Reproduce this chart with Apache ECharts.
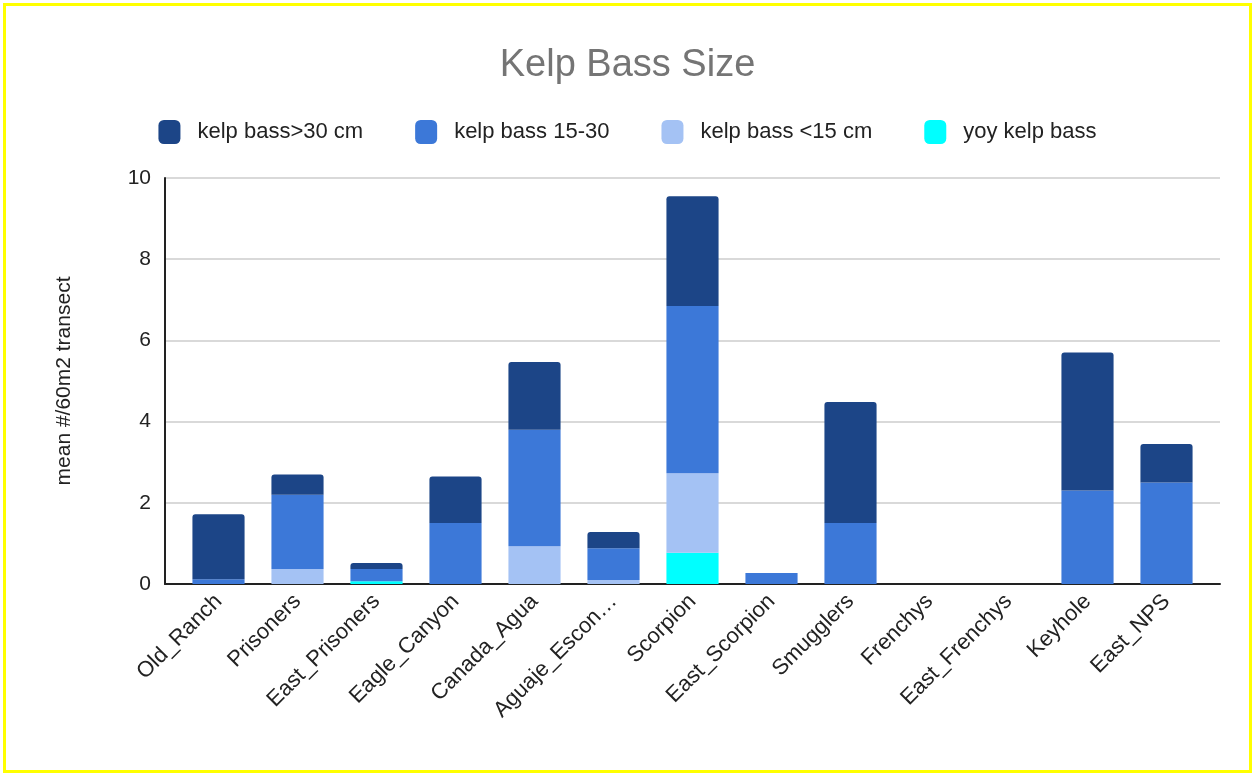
<!DOCTYPE html>
<html><head><meta charset="utf-8">
<script src="https://cdn.jsdelivr.net/npm/echarts@6/dist/echarts.min.js"></script>
<style>html,body{margin:0;padding:0;background:#fff}
#c{position:absolute;left:3px;top:3px;width:1249px;height:770px;border:3px solid #ffff00;box-sizing:border-box}</style>
</head><body><div id="c"></div>
<script>
var sites = ['Old_Ranch', 'Prisoners', 'East_Prisoners', 'Eagle_Canyon', 'Canada_Agua', 'Aguaje_Escondido', 'Scorpion', 'East_Scorpion', 'Smugglers', 'Frenchys', 'East_Frenchys', 'Keyhole', 'East_NPS'];
var yoy = [0, 0, 0.07, 0, 0, 0, 0.77, 0, 0, 0, 0, 0, 0];
var small = [0, 0.37, 0, 0, 0.93, 0.1, 1.96, 0, 0, 0, 0, 0, 0];
var mid = [0.12, 1.83, 0.3, 1.5, 2.87, 0.78, 4.12, 0.27, 1.5, 0, 0, 2.3, 2.5];
var big = [1.6, 0.5, 0.15, 1.15, 1.67, 0.4, 2.7, 0, 2.98, 0, 0, 3.4, 0.95];
var yTicks = [0, 2, 4, 6, 8, 10];

var font = '"Liberation Sans", Arial, sans-serif';
var myChart = echarts.init(document.getElementById('c'));
function s(name, data, color, top) {
    return {
        name: name, type: 'bar', stack: 'a', data: data, barCategoryGap: '34%',
        itemStyle: {color: color, borderRadius: top ? [3, 3, 0, 0] : 0}
    };
}
myChart.setOption({
    textStyle: {fontFamily: font},
    title: {text: 'Kelp Bass Size', left: 'center', top: 36,
        textStyle: {color: '#757575', fontSize: 38, fontWeight: 'normal', fontFamily: font}},
    legend: {top: 109, left: 'center', itemWidth: 22, itemHeight: 24, itemGap: 52,
        icon: 'roundRect', textStyle: {fontSize: 22, color: '#222', fontFamily: font, padding: [0, 0, 0, 12]},
        data: ['kelp bass>30 cm', 'kelp bass 15-30', 'kelp bass <15 cm', 'yoy kelp bass']},
    grid: [
        {left: 173, right: 43, top: 172, bottom: 186},
        {left: 159, right: 29, top: 172, bottom: 186}
    ],
    xAxis: [
        {type: 'category', data: sites, gridIndex: 0,
            axisLine: {show: false}, axisTick: {show: false},
            axisLabel: {rotate: 45, fontSize: 22, color: '#222', interval: 0, margin: 14,
                formatter: function (v) { return v.length > 15 ? v.slice(0, 12) + '…' : v; }}},
        {type: 'category', data: [''], gridIndex: 1,
            axisLine: {lineStyle: {color: '#222', width: 2}}, axisTick: {show: false},
            axisLabel: {show: false}}
    ],
    yAxis: [
        {type: 'value', min: 0, max: 10, interval: 2, gridIndex: 0,
            axisLine: {show: false}, axisLabel: {show: false}, splitLine: {show: false}},
        {type: 'value', min: yTicks[0], max: yTicks[yTicks.length - 1], interval: 2, gridIndex: 1,
            name: 'mean #/60m2 transect', nameLocation: 'middle', nameGap: 90,
            nameTextStyle: {fontSize: 21, color: '#222', fontFamily: font},
            axisLine: {show: true, lineStyle: {color: '#222', width: 2}},
            axisLabel: {fontSize: 21, color: '#222', margin: 14},
            splitLine: {lineStyle: {color: '#ccc', width: 1.5}}}
    ],
    series: [
        s('yoy kelp bass', yoy, '#00ffff'),
        s('kelp bass <15 cm', small, '#a4c2f4'),
        s('kelp bass 15-30', mid, '#3c78d8'),
        s('kelp bass>30 cm', big, '#1c4587', true)
    ]
});
</script></body></html>
